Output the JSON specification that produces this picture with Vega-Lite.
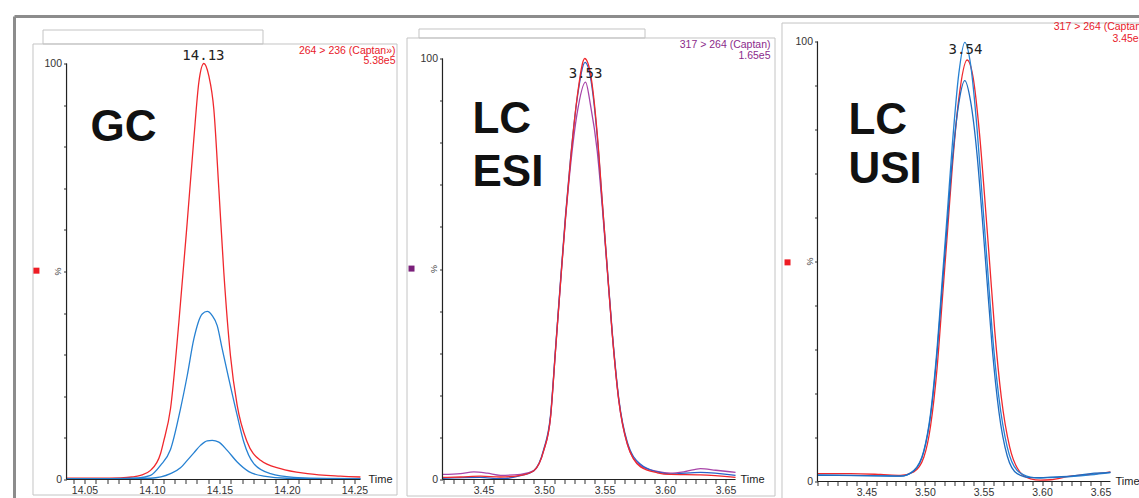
{
  "$schema": "https://vega.github.io/schema/vega-lite/v6.json",
  "padding": {"left": 12.5, "top": 14.5, "right": 0, "bottom": 0},
  "background": "white",
  "bounds": "flush",
  "spacing": 7,
  "config": {
    "view": {"stroke": null},
    "axis": {"grid": false, "title": null, "domain": false, "tickColor": "#333", "labelColor": "#333", "labelFont": "Liberation Sans", "labelFontSize": 10.5, "labelOverlap": false, "labelFlush": false, "labelPadding": 2},
    "text": {"font": "Liberation Sans"}
  },
  "resolve": {"scale": {"x": "independent", "y": "independent", "color": "independent"}},
  "datasets": {
    "one": [{}],
    "p1": [
      {"s": "264>236", "t": 14.0367, "v": 0.3}, {"s": "264>236", "t": 14.06, "v": 0.3}, {"s": "264>236", "t": 14.0767, "v": 0.4}, {"s": "264>236", "t": 14.085, "v": 0.6}, {"s": "264>236", "t": 14.0915, "v": 1.0}, {"s": "264>236", "t": 14.0989, "v": 2.2}, {"s": "264>236", "t": 14.1063, "v": 6.2}, {"s": "264>236", "t": 14.1085, "v": 9.0}, {"s": "264>236", "t": 14.1137, "v": 17}, {"s": "264>236", "t": 14.1199, "v": 37.8}, {"s": "264>236", "t": 14.1261, "v": 61.9}, {"s": "264>236", "t": 14.131, "v": 81.9}, {"s": "264>236", "t": 14.1347, "v": 95.5}, {"s": "264>236", "t": 14.1384, "v": 100}, {"s": "264>236", "t": 14.1421, "v": 97}, {"s": "264>236", "t": 14.1458, "v": 89}, {"s": "264>236", "t": 14.1495, "v": 69.9}, {"s": "264>236", "t": 14.1532, "v": 49.8}, {"s": "264>236", "t": 14.1581, "v": 29.8}, {"s": "264>236", "t": 14.1631, "v": 17.8}, {"s": "264>236", "t": 14.1705, "v": 9.0}, {"s": "264>236", "t": 14.1804, "v": 4.6}, {"s": "264>236", "t": 14.1952, "v": 2.6}, {"s": "264>236", "t": 14.215, "v": 1.4}, {"s": "264>236", "t": 14.2396, "v": 0.8}, {"s": "264>236", "t": 14.2544, "v": 0.6},
      {"s": "ion2", "t": 14.0367, "v": 0.2}, {"s": "ion2", "t": 14.07, "v": 0.2}, {"s": "ion2", "t": 14.09, "v": 0.4}, {"s": "ion2", "t": 14.0989, "v": 1.0}, {"s": "ion2", "t": 14.1063, "v": 3.4}, {"s": "ion2", "t": 14.1137, "v": 7.2}, {"s": "ion2", "t": 14.1211, "v": 17}, {"s": "ion2", "t": 14.1261, "v": 25}, {"s": "ion2", "t": 14.131, "v": 33.8}, {"s": "ion2", "t": 14.1372, "v": 39.8}, {"s": "ion2", "t": 14.1409, "v": 40.4}, {"s": "ion2", "t": 14.1446, "v": 39.4}, {"s": "ion2", "t": 14.1483, "v": 37}, {"s": "ion2", "t": 14.152, "v": 31.4}, {"s": "ion2", "t": 14.1569, "v": 24.2}, {"s": "ion2", "t": 14.1631, "v": 15.4}, {"s": "ion2", "t": 14.168, "v": 9.0}, {"s": "ion2", "t": 14.1754, "v": 3.8}, {"s": "ion2", "t": 14.1878, "v": 1.4}, {"s": "ion2", "t": 14.205, "v": 0.5}, {"s": "ion2", "t": 14.23, "v": 0.2}, {"s": "ion2", "t": 14.2544, "v": 0.2},
      {"s": "ion3", "t": 14.0367, "v": 0.2}, {"s": "ion3", "t": 14.08, "v": 0.2}, {"s": "ion3", "t": 14.0989, "v": 0.3}, {"s": "ion3", "t": 14.1137, "v": 1.4}, {"s": "ion3", "t": 14.1211, "v": 2.8}, {"s": "ion3", "t": 14.1261, "v": 4.6}, {"s": "ion3", "t": 14.131, "v": 6.4}, {"s": "ion3", "t": 14.1359, "v": 8.2}, {"s": "ion3", "t": 14.1409, "v": 9.3}, {"s": "ion3", "t": 14.1446, "v": 9.4}, {"s": "ion3", "t": 14.1495, "v": 9.0}, {"s": "ion3", "t": 14.1557, "v": 7.0}, {"s": "ion3", "t": 14.1631, "v": 4.2}, {"s": "ion3", "t": 14.1717, "v": 1.9}, {"s": "ion3", "t": 14.1828, "v": 0.8}, {"s": "ion3", "t": 14.2, "v": 0.3}, {"s": "ion3", "t": 14.2544, "v": 0.2}
    ],
    "p2": [
      {"s": "purple", "t": 3.4161, "v": 1.2}, {"s": "purple", "t": 3.431, "v": 1.4}, {"s": "purple", "t": 3.442, "v": 1.8}, {"s": "purple", "t": 3.453, "v": 1.5}, {"s": "purple", "t": 3.464, "v": 1.0}, {"s": "purple", "t": 3.4806, "v": 1.2}, {"s": "purple", "t": 3.4916, "v": 2.1}, {"s": "purple", "t": 3.4998, "v": 6.9}, {"s": "purple", "t": 3.5054, "v": 14.8}, {"s": "purple", "t": 3.5095, "v": 30.6}, {"s": "purple", "t": 3.5136, "v": 46.5}, {"s": "purple", "t": 3.5178, "v": 62.0}, {"s": "purple", "t": 3.5219, "v": 74.5}, {"s": "purple", "t": 3.5274, "v": 87}, {"s": "purple", "t": 3.5343, "v": 94.4}, {"s": "purple", "t": 3.5384, "v": 89}, {"s": "purple", "t": 3.544, "v": 78}, {"s": "purple", "t": 3.5481, "v": 65}, {"s": "purple", "t": 3.5522, "v": 50}, {"s": "purple", "t": 3.5564, "v": 34.6}, {"s": "purple", "t": 3.5618, "v": 18.8}, {"s": "purple", "t": 3.5688, "v": 8.5}, {"s": "purple", "t": 3.5798, "v": 3.3}, {"s": "purple", "t": 3.5936, "v": 1.9}, {"s": "purple", "t": 3.6045, "v": 1.5}, {"s": "purple", "t": 3.617, "v": 1.9}, {"s": "purple", "t": 3.6293, "v": 2.6}, {"s": "purple", "t": 3.642, "v": 2.2}, {"s": "purple", "t": 3.6583, "v": 1.7},
      {"s": "blue", "t": 3.4161, "v": 0.3}, {"s": "blue", "t": 3.4475, "v": 0.5}, {"s": "blue", "t": 3.464, "v": 0.2}, {"s": "blue", "t": 3.4806, "v": 0.9}, {"s": "blue", "t": 3.4916, "v": 2.1}, {"s": "blue", "t": 3.4998, "v": 7.2}, {"s": "blue", "t": 3.5054, "v": 15.3}, {"s": "blue", "t": 3.5095, "v": 31}, {"s": "blue", "t": 3.5136, "v": 47}, {"s": "blue", "t": 3.5178, "v": 62.8}, {"s": "blue", "t": 3.5219, "v": 76.2}, {"s": "blue", "t": 3.5274, "v": 90.5}, {"s": "blue", "t": 3.534, "v": 99.1}, {"s": "blue", "t": 3.5384, "v": 95.5}, {"s": "blue", "t": 3.544, "v": 81.5}, {"s": "blue", "t": 3.5481, "v": 66}, {"s": "blue", "t": 3.5522, "v": 50.6}, {"s": "blue", "t": 3.5564, "v": 35}, {"s": "blue", "t": 3.5618, "v": 19.2}, {"s": "blue", "t": 3.5688, "v": 8.9}, {"s": "blue", "t": 3.5798, "v": 3.6}, {"s": "blue", "t": 3.5936, "v": 1.8}, {"s": "blue", "t": 3.6045, "v": 1.3}, {"s": "blue", "t": 3.6293, "v": 1.7}, {"s": "blue", "t": 3.6583, "v": 1.0},
      {"s": "red", "t": 3.4161, "v": 0.5}, {"s": "red", "t": 3.431, "v": 0.6}, {"s": "red", "t": 3.4475, "v": 0.8}, {"s": "red", "t": 3.464, "v": 0.6}, {"s": "red", "t": 3.4806, "v": 1.0}, {"s": "red", "t": 3.4916, "v": 2.1}, {"s": "red", "t": 3.4998, "v": 6.9}, {"s": "red", "t": 3.5054, "v": 14.8}, {"s": "red", "t": 3.5095, "v": 30.6}, {"s": "red", "t": 3.5136, "v": 46.5}, {"s": "red", "t": 3.5178, "v": 62.3}, {"s": "red", "t": 3.5219, "v": 75.8}, {"s": "red", "t": 3.5274, "v": 90.8}, {"s": "red", "t": 3.5337, "v": 100}, {"s": "red", "t": 3.5384, "v": 96.4}, {"s": "red", "t": 3.544, "v": 82.1}, {"s": "red", "t": 3.5481, "v": 66.3}, {"s": "red", "t": 3.5522, "v": 50.4}, {"s": "red", "t": 3.5564, "v": 34.6}, {"s": "red", "t": 3.5618, "v": 18.8}, {"s": "red", "t": 3.5688, "v": 8.5}, {"s": "red", "t": 3.5798, "v": 3.0}, {"s": "red", "t": 3.5936, "v": 1.6}, {"s": "red", "t": 3.6045, "v": 1.2}, {"s": "red", "t": 3.6293, "v": 1.1}, {"s": "red", "t": 3.6583, "v": 0.5}
    ],
    "p3": [
      {"s": "red", "t": 3.4081, "v": 1.8}, {"s": "red", "t": 3.4363, "v": 1.8}, {"s": "red", "t": 3.462, "v": 1.6}, {"s": "red", "t": 3.4791, "v": 1.4}, {"s": "red", "t": 3.4904, "v": 2.2}, {"s": "red", "t": 3.499, "v": 5.5}, {"s": "red", "t": 3.5047, "v": 12.5}, {"s": "red", "t": 3.5104, "v": 26}, {"s": "red", "t": 3.5147, "v": 41}, {"s": "red", "t": 3.519, "v": 56}, {"s": "red", "t": 3.5232, "v": 71}, {"s": "red", "t": 3.5289, "v": 87}, {"s": "red", "t": 3.536, "v": 95.8}, {"s": "red", "t": 3.541, "v": 92}, {"s": "red", "t": 3.5466, "v": 79}, {"s": "red", "t": 3.551, "v": 64.6}, {"s": "red", "t": 3.5553, "v": 49.5}, {"s": "red", "t": 3.5596, "v": 34.3}, {"s": "red", "t": 3.5652, "v": 19.2}, {"s": "red", "t": 3.5724, "v": 7.8}, {"s": "red", "t": 3.581, "v": 2.2}, {"s": "red", "t": 3.5902, "v": 0.6}, {"s": "red", "t": 3.5987, "v": 0.3}, {"s": "red", "t": 3.6073, "v": 0.4}, {"s": "red", "t": 3.6244, "v": 1.2}, {"s": "red", "t": 3.6415, "v": 1.6}, {"s": "red", "t": 3.6585, "v": 2.2},
      {"s": "blue1", "t": 3.4081, "v": 1.5}, {"s": "blue1", "t": 3.4363, "v": 1.4}, {"s": "blue1", "t": 3.462, "v": 1.3}, {"s": "blue1", "t": 3.4791, "v": 1.2}, {"s": "blue1", "t": 3.4904, "v": 2.5}, {"s": "blue1", "t": 3.499, "v": 7.0}, {"s": "blue1", "t": 3.5047, "v": 15.4}, {"s": "blue1", "t": 3.5104, "v": 30.5}, {"s": "blue1", "t": 3.5147, "v": 45.7}, {"s": "blue1", "t": 3.519, "v": 60.8}, {"s": "blue1", "t": 3.5232, "v": 76.0}, {"s": "blue1", "t": 3.5289, "v": 92.7}, {"s": "blue1", "t": 3.534, "v": 99.8}, {"s": "blue1", "t": 3.5389, "v": 94.9}, {"s": "blue1", "t": 3.5446, "v": 79.8}, {"s": "blue1", "t": 3.5489, "v": 64.6}, {"s": "blue1", "t": 3.5532, "v": 49.5}, {"s": "blue1", "t": 3.5574, "v": 34.3}, {"s": "blue1", "t": 3.5631, "v": 19.2}, {"s": "blue1", "t": 3.5703, "v": 7.8}, {"s": "blue1", "t": 3.5788, "v": 2.5}, {"s": "blue1", "t": 3.5902, "v": 1.0}, {"s": "blue1", "t": 3.5987, "v": 0.8}, {"s": "blue1", "t": 3.6073, "v": 0.9}, {"s": "blue1", "t": 3.6244, "v": 1.1}, {"s": "blue1", "t": 3.6415, "v": 1.5}, {"s": "blue1", "t": 3.6585, "v": 2.1},
      {"s": "blue2", "t": 3.4081, "v": 1.4}, {"s": "blue2", "t": 3.462, "v": 1.3}, {"s": "blue2", "t": 3.4791, "v": 1.2}, {"s": "blue2", "t": 3.4904, "v": 2.4}, {"s": "blue2", "t": 3.499, "v": 6.8}, {"s": "blue2", "t": 3.5047, "v": 14.8}, {"s": "blue2", "t": 3.5104, "v": 29.5}, {"s": "blue2", "t": 3.5147, "v": 44}, {"s": "blue2", "t": 3.519, "v": 58.5}, {"s": "blue2", "t": 3.5232, "v": 72.5}, {"s": "blue2", "t": 3.5289, "v": 86}, {"s": "blue2", "t": 3.534, "v": 91.1}, {"s": "blue2", "t": 3.5389, "v": 86.5}, {"s": "blue2", "t": 3.5446, "v": 74}, {"s": "blue2", "t": 3.5489, "v": 60}, {"s": "blue2", "t": 3.5532, "v": 45}, {"s": "blue2", "t": 3.5574, "v": 30.5}, {"s": "blue2", "t": 3.5631, "v": 16}, {"s": "blue2", "t": 3.5703, "v": 5.8}, {"s": "blue2", "t": 3.5788, "v": 1.8}, {"s": "blue2", "t": 3.5902, "v": 0.9}, {"s": "blue2", "t": 3.5987, "v": 0.9}, {"s": "blue2", "t": 3.6073, "v": 1.0}, {"s": "blue2", "t": 3.6244, "v": 1.2}, {"s": "blue2", "t": 3.6415, "v": 1.8}, {"s": "blue2", "t": 3.6585, "v": 2.0}
    ]
  },
  "hconcat": [
    {
      "width": 365, "height": 473,
      "layer": [
        {"data": {"name": "one"}, "mark": {"type": "rule", "color": "#8c8c8c", "strokeWidth": 3, "clip": false}, "encoding": {"x": {"datum": 13.99815}, "x2": {"datum": 14.836}, "y": {"datum": 111.3}}},
        {"data": {"name": "one"}, "mark": {"type": "rule", "color": "#8c8c8c", "strokeWidth": 3, "clip": false}, "encoding": {"x": {"datum": 13.99815}, "y": {"datum": 111.3}, "y2": {"datum": -8}}},
        {"data": {"name": "one"}, "mark": {"type": "rect", "filled": false, "stroke": "#c4c4c4", "strokeWidth": 1, "clip": false}, "encoding": {"x": {"datum": 14.01185}, "x2": {"datum": 14.28148}, "y": {"datum": 104.69}, "y2": {"datum": -3.726}}},
        {"data": {"name": "one"}, "mark": {"type": "rect", "filled": false, "stroke": "#c4c4c4", "strokeWidth": 1, "clip": false}, "encoding": {"x": {"datum": 14.01926}, "x2": {"datum": 14.18222}, "y": {"datum": 108.05}, "y2": {"datum": 104.69}}},
        {
          "data": {"name": "p1"},
          "mark": {"type": "line", "strokeWidth": 1.3, "interpolate": "monotone"},
          "encoding": {
            "x": {"field": "t", "type": "quantitative", "scale": {"domain": [14.01148, 14.28185], "nice": false, "zero": false},
              "axis": {"offset": -16, "tickSize": 4, "tickCount": 500, "labelOverlap": false, "labelBound": false, "values": [14.04167, 14.05, 14.05833, 14.06667, 14.075, 14.08333, 14.09167, 14.1, 14.10833, 14.11667, 14.125, 14.13333, 14.14167, 14.15, 14.15833, 14.16667, 14.175, 14.18333, 14.19167, 14.2, 14.20833, 14.21667, 14.225, 14.23333, 14.24167, 14.25],
                "labelExpr": "abs(datum.value*20 - round(datum.value*20)) < 0.01 ? format(datum.value, '.2f') : ''"}},
            "y": {"field": "v", "type": "quantitative", "scale": {"domain": [-3.846, 109.856], "nice": false, "zero": false},
              "axis": {"offset": -34, "tickSize": 3, "tickCount": 100, "labelOverlap": false, "values": [0, 10, 20, 30, 40, 50, 60, 70, 80, 90, 100], "labelExpr": "datum.value == 100 || datum.value == 0 ? datum.label : ''"}},
            "color": {"field": "s", "type": "nominal", "scale": {"domain": ["264>236", "ion2", "ion3"], "range": ["#f0282d", "#2681d2", "#2681d2"]}, "legend": null}
          }
        },
        {"data": {"name": "one"}, "mark": {"type": "rule", "color": "#222", "strokeWidth": 1.2}, "encoding": {"x": {"datum": 14.0367}, "x2": {"datum": 14.2544}, "y": {"datum": 0}}},
        {"data": {"name": "one"}, "mark": {"type": "rule", "color": "#222", "strokeWidth": 1.2}, "encoding": {"x": {"datum": 14.0367}, "y": {"datum": 0}, "y2": {"datum": 100}}},
        {"data": {"name": "one"}, "mark": {"type": "text", "text": "GC", "fontSize": 44, "fontWeight": "bold", "align": "left", "baseline": "middle", "color": "#111"}, "encoding": {"x": {"datum": 14.0544}, "y": {"datum": 84.4}}},
        {"data": {"name": "one"}, "mark": {"type": "text", "text": "14.13", "font": "DejaVu Sans Mono", "fontSize": 14, "align": "center", "baseline": "middle", "color": "#222"}, "encoding": {"x": {"datum": 14.1381}, "y": {"datum": 101.9}}},
        {"data": {"name": "one"}, "mark": {"type": "text", "text": "264 > 236 (Captan»)", "fontSize": 10.5, "align": "right", "baseline": "middle", "color": "#e8202a"}, "encoding": {"x": {"datum": 14.2804}, "y": {"datum": 103.1}}},
        {"data": {"name": "one"}, "mark": {"type": "text", "text": "5.38e5", "fontSize": 10.5, "align": "right", "baseline": "middle", "color": "#e8202a"}, "encoding": {"x": {"datum": 14.2804}, "y": {"datum": 100.5}}},
        {"data": {"name": "one"}, "mark": {"type": "text", "text": "Time", "fontSize": 11, "align": "left", "baseline": "middle", "color": "#222"}, "encoding": {"x": {"datum": 14.2604}, "y": {"datum": -0.2}}},
        {"data": {"name": "one"}, "mark": {"type": "text", "text": "%", "fontSize": 9, "angle": 90, "align": "center", "baseline": "middle", "color": "#444"}, "encoding": {"x": {"datum": 14.03}, "y": {"datum": 50}}},
        {"data": {"name": "one"}, "mark": {"type": "square", "size": 36, "color": "#ee1c24", "opacity": 1}, "encoding": {"x": {"datum": 14.0144}, "y": {"datum": 50.2}}}
      ]
    },
    {
      "width": 371, "height": 473,
      "layer": [
        {"data": {"name": "one"}, "mark": {"type": "rect", "filled": false, "stroke": "#c4c4c4", "strokeWidth": 1, "clip": false}, "encoding": {"x": {"datum": 3.38678}, "x2": {"datum": 3.69091}, "y": {"datum": 104.87}, "y2": {"datum": -3.919}}},
        {"data": {"name": "one"}, "mark": {"type": "rect", "filled": false, "stroke": "#c4c4c4", "strokeWidth": 1, "clip": false}, "encoding": {"x": {"datum": 3.39669}, "x2": {"datum": 3.58347}, "y": {"datum": 107.01}, "y2": {"datum": 104.87}}},
        {
          "data": {"name": "p2"},
          "mark": {"type": "line", "strokeWidth": 1.3, "interpolate": "monotone"},
          "encoding": {
            "x": {"field": "t", "type": "quantitative", "scale": {"domain": [3.38471, 3.69132], "nice": false, "zero": false},
              "axis": {"offset": -16, "tickSize": 4, "tickCount": 500, "labelOverlap": false, "labelBound": false, "values": [3.41667, 3.425, 3.43333, 3.44167, 3.45, 3.45833, 3.46667, 3.475, 3.48333, 3.49167, 3.5, 3.50833, 3.51667, 3.525, 3.53333, 3.54167, 3.55, 3.55833, 3.56667, 3.575, 3.58333, 3.59167, 3.6, 3.60833, 3.61667, 3.625, 3.63333, 3.64167, 3.65],
                "labelExpr": "abs(datum.value*20 - round(datum.value*20)) < 0.01 ? format(datum.value, '.2f') : ''"}},
            "y": {"field": "v", "type": "quantitative", "scale": {"domain": [-3.8, 108.551], "nice": false, "zero": false},
              "axis": {"offset": -38, "tickSize": 3, "tickCount": 100, "labelOverlap": false, "values": [0, 10, 20, 30, 40, 50, 60, 70, 80, 90, 100], "labelExpr": "datum.value == 100 || datum.value == 0 ? datum.label : ''"}},
            "color": {"field": "s", "type": "nominal", "scale": {"domain": ["purple", "blue", "red"], "range": ["#a844a8", "#2a62c8", "#f0282d"]}, "legend": null}
          }
        },
        {"data": {"name": "one"}, "mark": {"type": "rule", "color": "#222", "strokeWidth": 1.2}, "encoding": {"x": {"datum": 3.4161}, "x2": {"datum": 3.6583}, "y": {"datum": 0}}},
        {"data": {"name": "one"}, "mark": {"type": "rule", "color": "#222", "strokeWidth": 1.2}, "encoding": {"x": {"datum": 3.4161}, "y": {"datum": 0}, "y2": {"datum": 100}}},
        {"data": {"name": "one"}, "mark": {"type": "text", "text": "LC", "fontSize": 44, "fontWeight": "bold", "align": "left", "baseline": "middle", "color": "#111"}, "encoding": {"x": {"datum": 3.4409}, "y": {"datum": 85.3}}},
        {"data": {"name": "one"}, "mark": {"type": "text", "text": "ESI", "fontSize": 44, "fontWeight": "bold", "align": "left", "baseline": "middle", "color": "#111"}, "encoding": {"x": {"datum": 3.4409}, "y": {"datum": 72.9}}},
        {"data": {"name": "one"}, "mark": {"type": "text", "text": "3.53", "font": "DejaVu Sans Mono", "fontSize": 14, "align": "center", "baseline": "middle", "color": "#222"}, "encoding": {"x": {"datum": 3.5343}, "y": {"datum": 96.4}}},
        {"data": {"name": "one"}, "mark": {"type": "text", "text": "317 > 264 (Captan)", "fontSize": 10.5, "align": "right", "baseline": "middle", "color": "#8b2b8b"}, "encoding": {"x": {"datum": 3.6872}, "y": {"datum": 103.1}}},
        {"data": {"name": "one"}, "mark": {"type": "text", "text": "1.65e5", "fontSize": 10.5, "align": "right", "baseline": "middle", "color": "#8b2b8b"}, "encoding": {"x": {"datum": 3.6872}, "y": {"datum": 100.5}}},
        {"data": {"name": "one"}, "mark": {"type": "text", "text": "Time", "fontSize": 11, "align": "left", "baseline": "middle", "color": "#222"}, "encoding": {"x": {"datum": 3.6624}, "y": {"datum": -0.2}}},
        {"data": {"name": "one"}, "mark": {"type": "text", "text": "%", "fontSize": 9, "angle": 90, "align": "center", "baseline": "middle", "color": "#444"}, "encoding": {"x": {"datum": 3.4095}, "y": {"datum": 50}}},
        {"data": {"name": "one"}, "mark": {"type": "square", "size": 36, "color": "#7a1f7a", "opacity": 1}, "encoding": {"x": {"datum": 3.3905}, "y": {"datum": 50.1}}}
      ]
    },
    {
      "width": 370, "height": 480,
      "layer": [
        {"data": {"name": "one"}, "mark": {"type": "rect", "filled": false, "stroke": "#c4c4c4", "strokeWidth": 1, "clip": false}, "encoding": {"x": {"datum": 3.37778}, "x2": {"datum": 3.69359}, "y": {"datum": 104.2}, "y2": {"datum": -4.7}}},
        {
          "data": {"name": "p3"},
          "mark": {"type": "line", "strokeWidth": 1.3, "interpolate": "monotone"},
          "encoding": {
            "x": {"field": "t", "type": "quantitative", "scale": {"domain": [3.37821, 3.69444], "nice": false, "zero": false},
              "axis": {"offset": -21, "tickSize": 4, "tickCount": 500, "labelOverlap": false, "labelBound": false, "values": [3.40833, 3.41667, 3.425, 3.43333, 3.44167, 3.45, 3.45833, 3.46667, 3.475, 3.48333, 3.49167, 3.5, 3.50833, 3.51667, 3.525, 3.53333, 3.54167, 3.55, 3.55833, 3.56667, 3.575, 3.58333, 3.59167, 3.6, 3.60833, 3.61667, 3.625, 3.63333, 3.64167, 3.65],
                "labelExpr": "abs(datum.value*20 - round(datum.value*20)) < 0.01 ? format(datum.value, '.2f') : ''"}},
            "y": {"field": "v", "type": "quantitative", "scale": {"domain": [-4.773, 104.318], "nice": false, "zero": false},
              "axis": {"offset": -35, "tickSize": 3, "tickCount": 100, "labelOverlap": false, "values": [0, 10, 20, 30, 40, 50, 60, 70, 80, 90, 100], "labelExpr": "datum.value == 100 || datum.value == 0 ? datum.label : ''"}},
            "color": {"field": "s", "type": "nominal", "scale": {"domain": ["red", "blue1", "blue2"], "range": ["#f0282d", "#2681d2", "#1f6cc0"]}, "legend": null}
          }
        },
        {"data": {"name": "one"}, "mark": {"type": "rule", "color": "#222", "strokeWidth": 1.2}, "encoding": {"x": {"datum": 3.4081}, "x2": {"datum": 3.6585}, "y": {"datum": 0}}},
        {"data": {"name": "one"}, "mark": {"type": "rule", "color": "#222", "strokeWidth": 1.2}, "encoding": {"x": {"datum": 3.4081}, "y": {"datum": 0}, "y2": {"datum": 100}}},
        {"data": {"name": "one"}, "mark": {"type": "text", "text": "LC", "fontSize": 44, "fontWeight": "bold", "align": "left", "baseline": "middle", "color": "#111"}, "encoding": {"x": {"datum": 3.4346}, "y": {"datum": 82}}},
        {"data": {"name": "one"}, "mark": {"type": "text", "text": "USI", "fontSize": 44, "fontWeight": "bold", "align": "left", "baseline": "middle", "color": "#111"}, "encoding": {"x": {"datum": 3.4346}, "y": {"datum": 70.7}}},
        {"data": {"name": "one"}, "mark": {"type": "text", "text": "3.54", "font": "DejaVu Sans Mono", "fontSize": 14, "align": "center", "baseline": "middle", "color": "#222"}, "encoding": {"x": {"datum": 3.5346}, "y": {"datum": 98}}},
        {"data": {"name": "one"}, "mark": {"type": "text", "text": "317 > 264 (Captan)", "fontSize": 10.5, "align": "right", "baseline": "middle", "color": "#e8202a"}, "encoding": {"x": {"datum": 3.68761}, "y": {"datum": 103.2}}},
        {"data": {"name": "one"}, "mark": {"type": "text", "text": "3.45e5", "fontSize": 10.5, "align": "right", "baseline": "middle", "color": "#e8202a"}, "encoding": {"x": {"datum": 3.68761}, "y": {"datum": 100.5}}},
        {"data": {"name": "one"}, "mark": {"type": "text", "text": "Time", "fontSize": 11, "align": "left", "baseline": "middle", "color": "#222"}, "encoding": {"x": {"datum": 3.6628}, "y": {"datum": -0.2}}},
        {"data": {"name": "one"}, "mark": {"type": "text", "text": "%", "fontSize": 9, "angle": 90, "align": "center", "baseline": "middle", "color": "#444"}, "encoding": {"x": {"datum": 3.4013}, "y": {"datum": 50}}},
        {"data": {"name": "one"}, "mark": {"type": "square", "size": 36, "color": "#ee1c24", "opacity": 1}, "encoding": {"x": {"datum": 3.3825}, "y": {"datum": 49.8}}}
      ]
    }
  ]
}
